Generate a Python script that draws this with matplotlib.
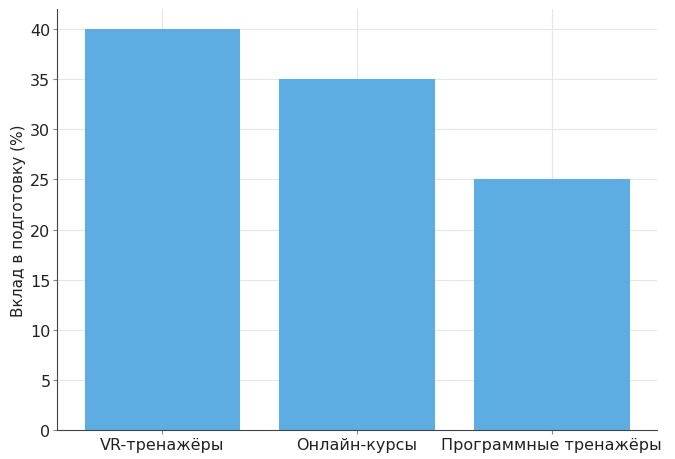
import matplotlib
matplotlib.use("Agg")
import matplotlib.pyplot as plt

# data
categories = ["VR-тренажёры", "Онлайн-курсы", "Программные тренажёры"]
values = [40, 35, 25]

fig = plt.figure(figsize=(6.75, 4.6), dpi=100)
ax = fig.add_axes([0.085, 0.063, 0.888, 0.915])

ax.bar(categories, values, color="#5DADE2", width=0.8, zorder=2)
ax.set_ylabel("Вклад в подготовку (%)", fontsize=11, labelpad=3, color="#222222")
ax.set_ylim(0, 42)
ax.set_yticks(range(0, 41, 5))
ax.tick_params(labelsize=11.5, length=3, pad=2, color="#888888", labelcolor="#222222")
ax.grid(True, color="#e6e6e6", linewidth=0.8, zorder=0)
ax.set_axisbelow(True)
for side in ["top", "right"]:
    ax.spines[side].set_visible(False)
ax.spines["left"].set_color("#444444")
ax.spines["bottom"].set_color("#444444")

fig.savefig("out.png", dpi=100)
